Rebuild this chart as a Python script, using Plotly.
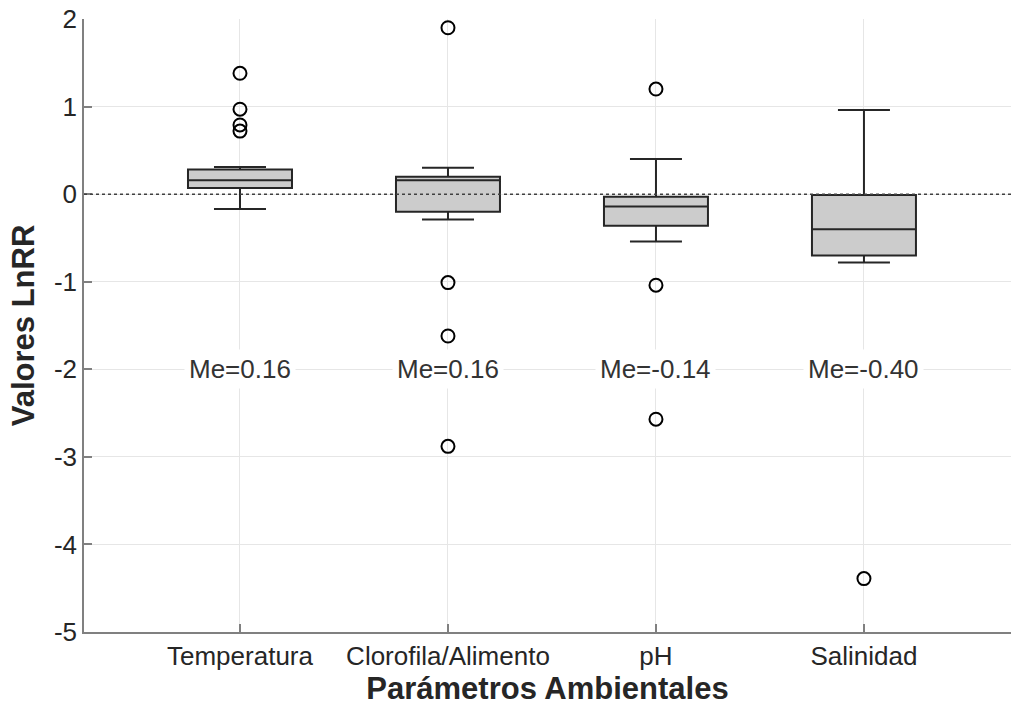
import plotly.graph_objects as go

categories = ["Temperatura", "Clorofila/Alimento", "pH", "Salinidad"]
cat_pos = [1, 2, 3, 4]
q1 = [0.07, -0.20, -0.36, -0.70]
median = [0.16, 0.16, -0.14, -0.40]
q3 = [0.28, 0.20, -0.03, -0.01]
lowerfence = [-0.17, -0.29, -0.54, -0.78]
upperfence = [0.31, 0.30, 0.40, 0.96]
outliers = {
    "Temperatura": [1.38, 0.97, 0.79, 0.72],
    "Clorofila/Alimento": [1.90, -1.01, -1.62, -2.88],
    "pH": [1.20, -1.04, -2.57],
    "Salinidad": [-4.39],
}
y_tickvals = [-5, -4, -3, -2, -1, 0, 1, 2]
y_ticktext = ["-5", "-4", "-3", "-2", "-1", "0", "1", "2"]
label_y = -2

FONT = "Liberation Sans, Arial, sans-serif"

fig = go.Figure()
fig.add_trace(go.Box(
    x=cat_pos, q1=q1, median=median, q3=q3,
    lowerfence=lowerfence, upperfence=upperfence,
    width=0.5, whiskerwidth=0.5, boxpoints=False,
    fillcolor="#cccccc", line=dict(color="#262626", width=2),
    hoverinfo="skip", showlegend=False,
))

ox, oy = [], []
for p, c in zip(cat_pos, categories):
    for v in outliers[c]:
        ox.append(p)
        oy.append(v)
fig.add_trace(go.Scatter(
    x=ox, y=oy, mode="markers",
    marker=dict(symbol="circle-open", size=13, color="#000000",
                line=dict(color="#000000", width=2)),
    hoverinfo="skip", showlegend=False,
))

fig.add_shape(type="line", xref="paper", yref="y", x0=0, x1=1, y0=0, y1=0,
              line=dict(color="#404040", width=1.5, dash="dot"), layer="above")

for p, m in zip(cat_pos, median):
    fig.add_annotation(x=p, y=label_y, text=f"Me={m:.2f}", showarrow=False,
                       bgcolor="white", borderpad=4,
                       font=dict(family=FONT, size=26, color="#333333"))

fig.update_layout(
    width=1011, height=709,
    margin=dict(l=84, r=0, t=19, b=77),
    paper_bgcolor="white", plot_bgcolor="white",
    font=dict(family=FONT, color="#262626"),
    hovermode=False,
    xaxis=dict(
        range=[0.25, 4.707], tickvals=cat_pos, ticktext=categories,
        showgrid=True, gridcolor="#e6e6e6", gridwidth=1,
        showline=True, linecolor="#808080", linewidth=1.5,
        ticks="inside", ticklen=8, tickcolor="#808080", tickwidth=1.5,
        tickfont=dict(family=FONT, size=26, color="#262626"),
        title=dict(text="<b>Parámetros Ambientales</b>", standoff=6,
                   font=dict(family=FONT, size=31, color="#262626")),
        zeroline=False,
    ),
    yaxis=dict(
        range=[-5, 2], tickvals=y_tickvals, ticktext=y_ticktext,
        showgrid=True, gridcolor="#e6e6e6", gridwidth=1,
        showline=True, linecolor="#808080", linewidth=1.5,
        ticks="inside", ticklen=8, tickcolor="#808080", tickwidth=1.5,
        tickfont=dict(family=FONT, size=26, color="#262626"),
        title=dict(text="<b>Valores LnRR</b>", standoff=10,
                   font=dict(family=FONT, size=31, color="#262626")),
        zeroline=False,
    ),
)

fig.write_html("out.html")
